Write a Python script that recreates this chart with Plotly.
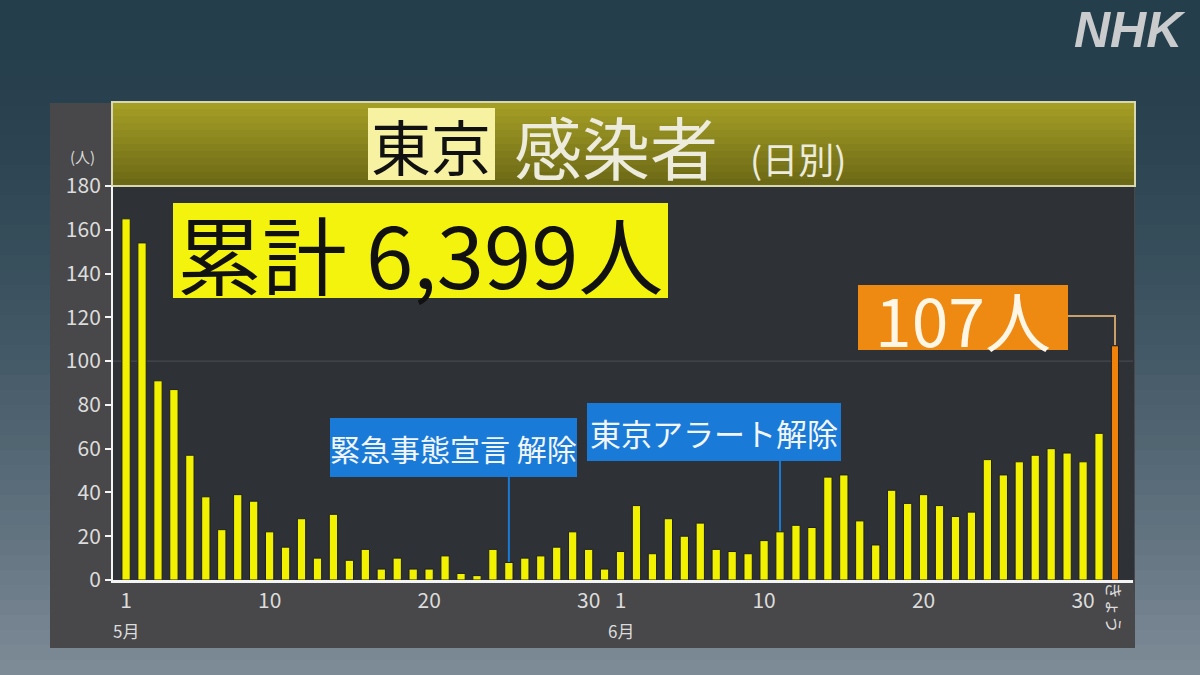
import plotly.graph_objects as go

# ---- data (Tokyo daily new infections, May 1 - today) ----
may_values = [165, 154, 91, 87, 57, 38, 23, 39, 36, 22, 15, 28, 10, 30, 9, 14,
              5, 10, 5, 5, 11, 3, 2, 14, 8, 10, 11, 15, 22, 14, 5]
june_values = [13, 34, 12, 28, 20, 26, 14, 13, 12, 18, 22, 25, 24, 47, 48, 27,
               16, 41, 35, 39, 34, 29, 31, 55, 48, 54, 57, 60, 58, 54]
july_values = [67]
today_value = 107
day_labels = [str(d) for d in range(1, 32)] + [str(d) for d in range(1, 31)] + ["1", "きょう"]
tick_days = ["1", "10", "20", "30", "1", "10", "20", "30"]
tick_index = [0, 9, 19, 29, 31, 40, 50, 60]
y_ticks = [0, 20, 40, 60, 80, 100, 120, 140, 160, 180]
cumulative_text = "累計 6,399人"
today_text = "107人"
event_emergency = ("緊急事態宣言 解除", 24)   # May 25
event_alert = ("東京アラート解除", 41)        # June 11

past_values = may_values + june_values + july_values
x_past = list(range(len(past_values)))
x_today = len(past_values)

FONT = "Noto Sans CJK JP"

# pixel -> paper helpers (plot area: x 113..1133, y 186..580)
L, R, T, B = 113, 1133, 186, 580
W, H = R - L, B - T
def px(x):
    return (x - L) / W
def py(y):
    return (B - y) / H

def hexmix(c1, c2, t):
    a = [int(c1[i:i + 2], 16) for i in (1, 3, 5)]
    b = [int(c2[i:i + 2], 16) for i in (1, 3, 5)]
    return "#" + "".join(f"{round(a[k] + (b[k] - a[k]) * t):02x}" for k in range(3))

shapes = []
# background gradient
n = 45
for i in range(n):
    t = i / (n - 1)
    col = hexmix("#253e4c", "#7d8b97", t ** 1.6)
    y0 = 675 * i / n
    y1 = 675 * (i + 1) / n + 1
    shapes.append(dict(type="rect", xref="paper", yref="paper", x0=px(0), x1=px(1200),
                       y0=py(y1), y1=py(y0), fillcolor=col, line_width=0, layer="below"))
# gray panel
shapes.append(dict(type="rect", xref="paper", yref="paper", x0=px(50), x1=px(1135),
                   y0=py(648), y1=py(103), fillcolor="#48484a", line_width=0, layer="below"))
# plot dark area
shapes.append(dict(type="rect", xref="paper", yref="paper", x0=px(113), x1=px(1134),
                   y0=py(580), y1=py(186), fillcolor="#2e3136", line_width=0, layer="below"))
# title bar gradient
m = 12
for i in range(m):
    t = i / (m - 1)
    col = hexmix("#a49e25", "#6c6916", t)
    y0 = 102 + 84 * i / m
    y1 = 102 + 84 * (i + 1) / m + 0.5
    shapes.append(dict(type="rect", xref="paper", yref="paper", x0=px(112), x1=px(1135),
                       y0=py(y1), y1=py(y0), fillcolor=col, line_width=0, layer="below"))
shapes.append(dict(type="rect", xref="paper", yref="paper", x0=px(112), x1=px(1135),
                   y0=py(186), y1=py(102), fillcolor="rgba(0,0,0,0)",
                   line=dict(color="#d9d7b0", width=2), layer="below"))
# 東京 highlight box
shapes.append(dict(type="rect", xref="paper", yref="paper", x0=px(368), x1=px(495),
                   y0=py(180), y1=py(108), fillcolor="#f6f2a2", line_width=0, layer="below"))
# gridline at 100
shapes.append(dict(type="line", xref="paper", yref="y", x0=0, x1=1, y0=100, y1=100,
                   line=dict(color="#4b4f55", width=1), layer="below"))
# cumulative box
shapes.append(dict(type="rect", xref="paper", yref="paper", x0=px(173), x1=px(668),
                   y0=py(298), y1=py(203), fillcolor="#f3f30e", line_width=0, layer="below"))
# today box
shapes.append(dict(type="rect", xref="paper", yref="paper", x0=px(858), x1=px(1068),
                   y0=py(350), y1=py(285), fillcolor="#ee8a12", line_width=0, layer="below"))
# connector for today
shapes.append(dict(type="line", xref="paper", yref="paper", x0=px(1068), x1=px(1116),
                   y0=py(316), y1=py(316), line=dict(color="#c9a06a", width=2), layer="below"))
shapes.append(dict(type="line", xref="x", yref="paper", x0=x_today, x1=x_today,
                   y0=py(316), y1=py(345), line=dict(color="#c9a06a", width=2), layer="below"))
# event boxes and lines
shapes.append(dict(type="rect", xref="paper", yref="paper", x0=px(330), x1=px(577),
                   y0=py(477), y1=py(418), fillcolor="#1a7ad8", line_width=0, layer="below"))
shapes.append(dict(type="line", xref="x", yref="y", x0=event_emergency[1], x1=event_emergency[1],
                   y0=past_values[event_emergency[1]], y1=(B - 477) / H * 180,
                   line=dict(color="#1a7ad8", width=2), layer="below"))
shapes.append(dict(type="rect", xref="paper", yref="paper", x0=px(587), x1=px(841),
                   y0=py(461), y1=py(403), fillcolor="#1a7ad8", line_width=0, layer="below"))
shapes.append(dict(type="line", xref="x", yref="y", x0=event_alert[1], x1=event_alert[1],
                   y0=past_values[event_alert[1]], y1=(B - 461) / H * 180,
                   line=dict(color="#1a7ad8", width=2), layer="below"))

fig = go.Figure()
fig.add_trace(go.Bar(x=x_past, y=past_values, width=0.52,
                     marker=dict(color="#f2f200", line=dict(color="#1e2024", width=1))))
fig.add_trace(go.Bar(x=[x_today], y=[today_value], width=0.45,
                     marker=dict(color="#f0820c", line=dict(color="#1e2024", width=1))))

ann = []
def text(x, y, s, size, color, xanchor="center", yanchor="middle", angle=0, xref="paper"):
    ann.append(dict(x=x, y=y, xref=xref, yref="paper", text=s, showarrow=False,
                    xanchor=xanchor, yanchor=yanchor, textangle=angle,
                    font=dict(family=FONT, size=size, color=color)))

# title
text(px(431), py(144), "東京", 60, "#111111")
text(px(512), py(146), "感染者", 68, "#ecebdc", xanchor="left")
text(px(748), py(158), "(日別)", 36, "#ecebdc", xanchor="left")
# NHK logo
ann.append(dict(x=px(1188), y=py(0), xref="paper", yref="paper", showarrow=False,
                xanchor="right", yanchor="top",
                text="<b><i>NHK</i></b>", font=dict(family="Liberation Sans", size=50, color="#c9cbcd")))
# unit
text(px(82), py(157), "(人)", 15, "#d8d8d8")
# big labels
text(px(420), py(251), cumulative_text, 85, "#111111")
text(px(963), py(318), today_text, 66, "#fff6e6")
text(px(453), py(448), event_emergency[0], 30, "#f2f6fa")
text(px(714), py(432), event_alert[0], 31, "#f2f6fa")
# month labels
text(0, py(630), "5月", 17, "#dcdcdc", xref="x")
text(31, py(630), "6月", 17, "#dcdcdc", xref="x")
text(x_today, py(608), "きょう", 17, "#dcdcdc", angle=90, xref="x")

fig.update_layout(
    width=1200, height=675,
    margin=dict(l=L, r=1200 - R, t=T, b=675 - B),
    paper_bgcolor="#2f4656", plot_bgcolor="rgba(0,0,0,0)",
    showlegend=False, barmode="overlay",
    shapes=shapes, annotations=ann,
    font=dict(family=FONT, color="#dcdcdc"),
)
fig.update_xaxes(range=[-0.82, 63.13], tickmode="array", tickvals=tick_index, ticktext=tick_days,
                 showgrid=False, zeroline=False, showline=True, linecolor="#f4f4f4", linewidth=3,
                 ticks="", tickfont=dict(size=21, color="#dcdcdc", family=FONT))
fig.update_yaxes(range=[0, 180], tickmode="array", tickvals=y_ticks, showgrid=False, zeroline=False,
                 showline=True, linecolor="#f4f4f4", linewidth=2, ticks="outside", ticklen=6,
                 tickcolor="#f4f4f4", tickwidth=2,
                 tickfont=dict(size=21, color="#dcdcdc", family=FONT))

fig.write_html("out.html", config={"displayModeBar": False},
               post_script="document.body.style.margin='0';document.body.style.padding='0';"
                           "document.body.style.overflow='hidden';")
